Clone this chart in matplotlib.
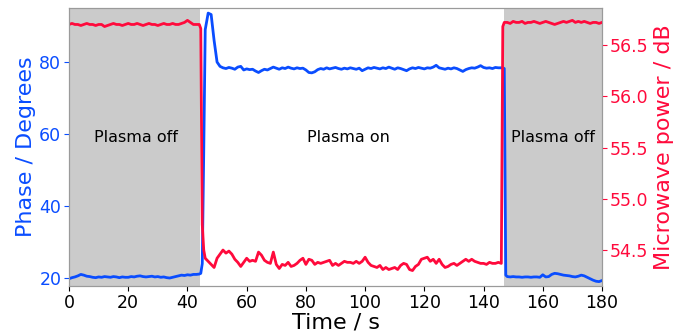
import numpy as np
import matplotlib
matplotlib.use("Agg")
import matplotlib.pyplot as plt

# Sample times (s): 1 s steps, with half-second points at the plasma switching
t_off_left = np.arange(0, 44)
t_switch_on = [44, 44.5, 45, 45.5, 46]
t_on = np.arange(47, 147)
t_switch_off = [146.5, 147, 147.5]
t_off_right = np.arange(148, 181)

# Phase (degrees)
phase_off_left = [19.8, 20.1, 20.3, 20.6, 21.0, 20.8, 20.5, 20.4, 20.2, 20.1,
                  20.3, 20.2, 20.4, 20.3, 20.2, 20.4, 20.3, 20.1, 20.3, 20.2,
                  20.2, 20.4, 20.3, 20.5, 20.6, 20.4, 20.3, 20.4, 20.5, 20.3,
                  20.4, 20.2, 20.3, 20.1, 20.0, 20.2, 20.4, 20.6, 20.8, 20.7,
                  20.9, 20.8, 21.0, 21.0]
phase_switch_on = [21.1, 21.3, 24.0, 55.0, 89.0]
phase_on = [93.6, 93.2, 86.0, 80.0, 78.8, 78.4, 78.2, 78.5, 78.3, 78.0,
            78.6, 78.8, 77.8, 78.1, 77.9, 78.0, 77.5, 77.1, 77.6, 78.0,
            77.8, 78.2, 78.6, 78.3, 78.0, 78.4, 78.2, 78.6, 78.3, 78.1,
            78.4, 78.2, 78.3, 77.8, 77.1, 77.0, 77.3, 77.9, 78.2, 78.0,
            78.4, 78.1, 78.3, 78.5, 78.2, 78.0, 78.3, 78.1, 78.4, 78.2,
            78.0, 78.3, 77.6, 78.0, 78.4, 78.2, 78.5, 78.3, 78.1, 78.4,
            78.2, 78.6, 78.3, 78.0, 78.4, 78.2, 77.9, 77.6, 78.1, 78.4,
            78.2, 78.5, 78.3, 78.1, 78.4, 78.3, 78.6, 79.1, 78.4, 78.2,
            78.0, 78.3, 78.1, 78.4, 78.2, 77.8, 77.4, 77.9, 78.2, 78.4,
            78.3, 78.6, 79.0, 78.5, 78.3, 78.4, 78.2, 78.5, 78.4, 78.4]
phase_switch_off = [78.4, 78.2, 20.8]
phase_off_right = [20.4, 20.3, 20.4, 20.3, 20.3, 20.2, 20.3, 20.3, 20.2, 20.3,
                   20.3, 20.2, 20.9, 20.3, 20.4, 21.0, 21.3, 21.2, 21.0, 20.8,
                   20.7, 20.6, 20.4, 20.3, 20.5, 20.8, 20.6, 20.2, 19.8, 19.4,
                   19.1, 19.0, 19.3]

# Microwave power (dB)
power_off_left = [56.70, 56.71, 56.70, 56.70, 56.69, 56.70, 56.71, 56.70, 56.70, 56.69,
                  56.70, 56.70, 56.68, 56.69, 56.70, 56.71, 56.70, 56.70, 56.69, 56.70,
                  56.71, 56.70, 56.70, 56.71, 56.70, 56.69, 56.70, 56.71, 56.70, 56.70,
                  56.69, 56.70, 56.71, 56.70, 56.70, 56.71, 56.70, 56.70, 56.71, 56.72,
                  56.74, 56.72, 56.70, 56.70]
power_switch_on = [56.70, 56.66, 54.75, 54.50, 54.42]
power_on = [54.39, 54.36, 54.33, 54.42, 54.46, 54.50, 54.47, 54.49, 54.46, 54.41,
            54.38, 54.34, 54.38, 54.42, 54.39, 54.40, 54.39, 54.48, 54.45, 54.40,
            54.38, 54.37, 54.48, 54.36, 54.32, 54.36, 54.35, 54.38, 54.34, 54.35,
            54.37, 54.40, 54.42, 54.36, 54.41, 54.40, 54.36, 54.38, 54.37, 54.38,
            54.39, 54.40, 54.35, 54.37, 54.35, 54.37, 54.39, 54.38, 54.38, 54.37,
            54.39, 54.37, 54.39, 54.43, 54.38, 54.35, 54.34, 54.33, 54.35, 54.31,
            54.33, 54.31, 54.32, 54.33, 54.31, 54.35, 54.37, 54.36, 54.31, 54.30,
            54.34, 54.36, 54.41, 54.42, 54.43, 54.39, 54.41, 54.37, 54.41, 54.36,
            54.33, 54.34, 54.36, 54.37, 54.35, 54.37, 54.39, 54.41, 54.39, 54.41,
            54.39, 54.38, 54.37, 54.37, 54.36, 54.38, 54.37, 54.37, 54.38, 54.37]
power_switch_off = [56.68, 56.72, 56.72]
power_off_right = [56.72, 56.71, 56.73, 56.72, 56.72, 56.73, 56.71, 56.72, 56.72, 56.73,
                   56.72, 56.71, 56.72, 56.73, 56.72, 56.71, 56.70, 56.71, 56.72, 56.73,
                   56.72, 56.73, 56.74, 56.72, 56.73, 56.72, 56.73, 56.72, 56.71, 56.72,
                   56.72, 56.71, 56.72]

plasma_off_spans = [(0, 44.3), (146.9, 180)]
region_labels = ["Plasma off", "Plasma on", "Plasma off"]
region_label_x = [22.5, 94.5, 163.5]

time_s = np.concatenate([t_off_left, t_switch_on, t_on, t_switch_off, t_off_right])
phase = np.concatenate([phase_off_left, phase_switch_on, phase_on,
                        phase_switch_off, phase_off_right])
power = np.concatenate([power_off_left, power_switch_on, power_on,
                        power_switch_off, power_off_right])

blue = "#0a4dff"
red = "#ff0a3c"

fig = plt.figure(figsize=(6.88, 3.36), dpi=100)
ax = fig.add_axes([0.1003, 0.149, 0.7747, 0.827])
ax2 = ax.twinx()

for x0, x1 in plasma_off_spans:
    ax.axvspan(x0, x1, color="#cbcbcb", lw=0, zorder=0)

ax.plot(time_s, phase, color=blue, lw=2, zorder=3)
ax2.plot(time_s, power, color=red, lw=2)

for label, x in zip(region_labels, region_label_x):
    ax.text(x, 59, label, ha="center", va="center", fontsize=11.5, color="black")

ax.set_xlim(0, 180)
ax.set_ylim(17.8, 95)
ax2.set_ylim(54.15, 56.86)
ax.set_xticks(np.arange(0, 181, 20))
ax.set_yticks([20, 40, 60, 80])
ax2.set_yticks([54.5, 55.0, 55.5, 56.0, 56.5])

ax.set_xlabel("Time / s", fontsize=16, labelpad=1)
ax.set_ylabel("Phase / Degrees", fontsize=16, color=blue, labelpad=2)
ax2.set_ylabel("Microwave power / dB", fontsize=16, color=red, labelpad=4)

ax.tick_params(axis="x", labelsize=12.5, pad=2)
ax.tick_params(axis="y", labelsize=12.5, colors=blue, pad=2)
ax2.tick_params(axis="y", labelsize=12.5, colors=red, pad=2)

for a in (ax, ax2):
    for s in a.spines.values():
        s.set_color("#9a9a9a")

fig.savefig("out.png", dpi=100)
